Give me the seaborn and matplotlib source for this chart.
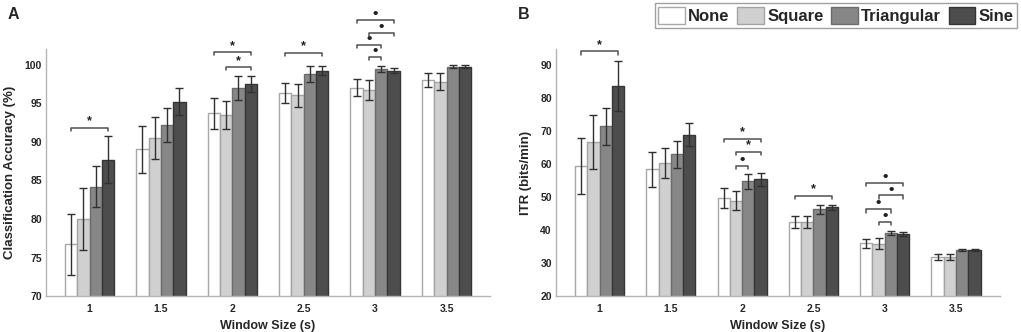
import numpy as np
import pandas as pd
import seaborn as sns
import matplotlib.pyplot as plt

# Window sizes and filter types
windows = ["1", "1.5", "2", "2.5", "3", "3.5"]
methods = ["None", "Square", "Triangular", "Sine"]

# Panel A: classification accuracy (%) mean and error
acc_none = [76.7, 89.0, 93.7, 96.3, 97.0, 98.0]
acc_square = [80.0, 90.5, 93.5, 96.0, 96.7, 97.8]
acc_tri = [84.2, 92.2, 97.0, 98.75, 99.45, 99.75]
acc_sine = [87.7, 95.2, 97.5, 99.2, 99.2, 99.75]
acc_err_none = [3.9, 3.0, 2.0, 1.3, 1.1, 0.9]
acc_err_square = [4.0, 2.7, 1.8, 1.5, 1.25, 1.1]
acc_err_tri = [2.65, 2.2, 1.55, 1.05, 0.35, 0.25]
acc_err_sine = [3.1, 1.75, 1.0, 0.6, 0.35, 0.25]

# Panel B: ITR (bits/min) mean and error
itr_none = [59.4, 58.4, 49.7, 42.4, 36.0, 31.9]
itr_square = [66.7, 60.3, 48.9, 42.4, 35.9, 31.8]
itr_tri = [71.4, 62.9, 54.8, 46.3, 39.1, 33.9]
itr_sine = [83.6, 68.9, 55.4, 46.9, 38.7, 33.9]
itr_err_none = [8.5, 5.2, 3.0, 1.8, 1.3, 0.9]
itr_err_square = [8.3, 4.5, 2.9, 1.8, 1.6, 1.0]
itr_err_tri = [5.6, 4.1, 2.3, 1.4, 0.6, 0.3]
itr_err_sine = [7.5, 3.5, 2.0, 0.8, 0.6, 0.3]

# Significance brackets: (window index, method a, method b, height, marker)
acc_sig = [(0, 0, 3, 91.8, "*"), (2, 0, 3, 101.6, "*"), (2, 1, 3, 99.65, "*"),
           (3, 0, 3, 101.5, "*"), (4, 0, 3, 105.8, "•"), (4, 1, 3, 104.1, "•"),
           (4, 0, 2, 102.6, "•"), (4, 1, 2, 101.0, "•")]
itr_sig = [(0, 0, 3, 94.1, "*"), (2, 0, 3, 67.7, "*"), (2, 1, 3, 63.8, "*"),
           (2, 1, 2, 59.4, "•"), (3, 0, 3, 50.3, "*"), (4, 0, 3, 54.3, "•"),
           (4, 1, 3, 50.5, "•"), (4, 0, 2, 46.3, "•"), (4, 1, 2, 42.5, "•")]

face_colors = ["#ffffff", "#d0d0d0", "#878787", "#4d4d4d"]
edge_colors = ["#a8a8a8", "#a3a3a3", "#6c6c6c", "#353535"]

sns.set_style("white")
plt.rcParams["font.family"] = ["Liberation Sans", "DejaVu Sans"]
plt.rcParams["font.weight"] = "bold"


def long_table(vals, errs):
    rows = []
    for m, v, e in zip(methods, vals, errs):
        for w, vi, ei in zip(windows, v, e):
            rows.append({"window": w, "method": m, "value": vi, "err": ei})
    return pd.DataFrame(rows)


def draw_panel(ax, df, ylim, yticks, ylabel, sig):
    sns.barplot(data=df, x="window", y="value", hue="method", order=windows,
                hue_order=methods, palette=face_colors, width=0.69, gap=0,
                errorbar=None, legend=False, linewidth=1.0, ax=ax)
    centers = []
    for i, (cont, m) in enumerate(zip(ax.containers, methods)):
        xs = []
        for bar in cont.patches:
            bar.set_edgecolor(edge_colors[i])
            xs.append(bar.get_x() + bar.get_width() / 2)
        centers.append(xs)
        sub = df[df["method"] == m]
        ax.errorbar(xs, sub["value"], yerr=sub["err"], fmt="none",
                    ecolor="#303030", elinewidth=1.0, capsize=3, capthick=1.0,
                    zorder=5)
    ax.set_ylim(*ylim)
    ax.set_xlim(-0.61, len(windows) - 1 + 0.61)
    ax.set_yticks(yticks)
    drop = (ylim[1] - ylim[0]) * 0.013
    for w, a, b, y, mk in sig:
        xa, xb = centers[a][w], centers[b][w]
        ax.plot([xa, xa, xb, xb], [y - drop, y, y, y - drop], color="#505050",
                lw=1.1, clip_on=False, zorder=6)
        if mk == "*":
            ax.annotate(mk, ((xa + xb) / 2, y), xytext=(0, 0.3),
                        textcoords="offset points", ha="center", va="bottom",
                        fontsize=9, color="#202020", annotation_clip=False)
        else:
            ax.annotate(mk, ((xa + xb) / 2, y), xytext=(0, 4.2),
                        textcoords="offset points", ha="center", va="center",
                        fontsize=11, color="#202020", annotation_clip=False)
    for s in ["top", "right"]:
        ax.spines[s].set_visible(False)
    for s in ["left", "bottom"]:
        ax.spines[s].set_color("#b5b5b5")
        ax.spines[s].set_linewidth(1.0)
    ax.tick_params(axis="y", direction="in", length=3, color="#b5b5b5",
                   labelsize=7.5, pad=3)
    ax.tick_params(axis="x", length=0, labelsize=7.5, pad=6)
    for lab in ax.get_xticklabels() + ax.get_yticklabels():
        lab.set_fontweight("bold")
    ax.set_xlabel("Window Size (s)", fontsize=9, fontweight="bold", labelpad=4)
    ax.set_ylabel(ylabel, fontsize=9.5, fontweight="bold", labelpad=6)


fig = plt.figure(figsize=(10.21, 3.32), dpi=100)
ax_a = fig.add_axes([0.045, 0.108, 0.435, 0.744])
ax_b = fig.add_axes([0.5446, 0.108, 0.4344, 0.744])

df_acc = long_table([acc_none, acc_square, acc_tri, acc_sine],
                    [acc_err_none, acc_err_square, acc_err_tri, acc_err_sine])
df_itr = long_table([itr_none, itr_square, itr_tri, itr_sine],
                    [itr_err_none, itr_err_square, itr_err_tri, itr_err_sine])

draw_panel(ax_a, df_acc, (70, 102), [70, 75, 80, 85, 90, 95, 100],
           "Classification Accuracy (%)", acc_sig)
draw_panel(ax_b, df_itr, (20, 94.8), [20, 30, 40, 50, 60, 70, 80, 90],
           "ITR (bits/min)", itr_sig)

fig.text(0.007, 0.955, "A", fontsize=11.5, fontweight="bold", va="center")
fig.text(0.507, 0.955, "B", fontsize=11.5, fontweight="bold", va="center")

leg = fig.legend(handles=list(ax_b.containers), labels=methods, ncol=4,
                 loc="upper right", bbox_to_anchor=(0.996, 0.99),
                 prop={"weight": "bold", "size": 12}, frameon=True,
                 fancybox=False, handlelength=1.6, handleheight=1.25,
                 handletextpad=0.2, columnspacing=0.45, borderpad=0.2,
                 borderaxespad=0)
leg.get_frame().set_edgecolor("#8a8a8a")
leg.get_frame().set_linewidth(1.0)

plt.savefig("out.png", dpi=100)
